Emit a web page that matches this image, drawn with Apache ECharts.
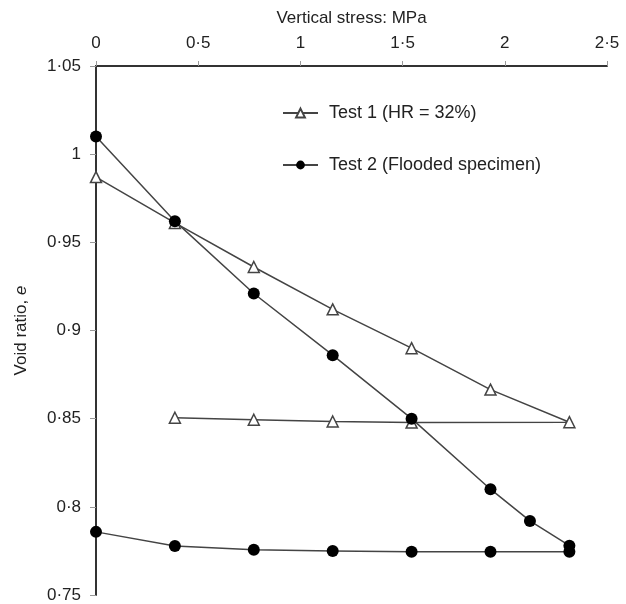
<!DOCTYPE html>
<html>
<head>
<meta charset="utf-8">
<script src="https://cdn.jsdelivr.net/npm/echarts@6/dist/echarts.min.js"></script>
<style>
  html, body { margin: 0; padding: 0; background: #fff; }
  #chart { width: 626px; height: 604px; }
</style>
</head>
<body>
<div id="chart"></div>
<script>
// Test 1 (HR = 32%): loading then unloading
const test1Stress = [0, 0.386, 0.772, 1.158, 1.544, 1.93, 2.316, 1.544, 1.158, 0.772, 0.386]
const test1Void = [0.987, 0.961, 0.936, 0.912, 0.890, 0.8665, 0.848, 0.8478, 0.8484, 0.8494, 0.8505]

// Test 2 (Flooded specimen)
const test2Stress = [0, 0.386, 0.772, 1.158, 1.544, 1.93, 2.123, 2.316, 2.316, 1.93, 1.544, 1.158, 0.772, 0.386, 0]
const test2Void = [1.01, 0.962, 0.921, 0.886, 0.850, 0.810, 0.792, 0.778, 0.7745, 0.7745, 0.7745, 0.775, 0.7757, 0.7778, 0.7858]

const seriesNames = ['Test 1 (HR = 32%)', 'Test 2 (Flooded specimen)']

const fontFamily = 'Liberation Sans, Arial, sans-serif'
const textColor = '#222'
const lineColor = '#444'

const dotFmt = (v) => String(+v.toFixed(2)).replace('.', '·')

const chart = echarts.init(document.getElementById('chart'))

chart.setOption({
  animation: false,
  textStyle: { fontFamily },
  grid: { left: 96, right: 19, top: 66, bottom: 9, containLabel: false },
  legend: {
    orient: 'vertical',
    left: 277,
    top: 99,
    itemGap: 34,
    itemWidth: 35,
    itemHeight: 11,
    textStyle: { fontSize: 18, color: textColor, fontFamily, padding: [0, 0, 0, 6] },
    data: seriesNames
  },
  xAxis: {
    type: 'value',
    position: 'top',
    min: 0,
    max: 2.5,
    interval: 0.5,
    name: 'Vertical stress: MPa',
    nameLocation: 'middle',
    nameGap: 39,
    nameTextStyle: { fontSize: 17, color: textColor },
    axisLine: { onZero: false, lineStyle: { color: '#333', width: 2 } },
    axisTick: { show: true, length: 5, lineStyle: { color: '#999' } },
    axisLabel: { fontSize: 17, color: textColor, margin: 14, formatter: dotFmt },
    splitLine: { show: false }
  },
  yAxis: {
    type: 'value',
    min: 0.75,
    max: 1.05,
    interval: 0.05,
    name: 'Void ratio, {i|e}',
    nameLocation: 'middle',
    nameGap: 66,
    nameTextStyle: {
      fontSize: 17,
      color: textColor,
      rich: { i: { fontSize: 17, fontStyle: 'italic', color: textColor, fontFamily } }
    },
    axisLine: { onZero: false, lineStyle: { color: '#333', width: 2 } },
    axisTick: { show: true, length: 6, lineStyle: { color: '#999' } },
    axisLabel: { fontSize: 17, color: textColor, margin: 15, formatter: dotFmt },
    splitLine: { show: false }
  },
  series: [
    {
      name: seriesNames[0],
      type: 'line',
      data: test1Stress.map((x, i) => [x, test1Void[i]]),
      symbol: 'triangle',
      symbolSize: 11,
      showAllSymbol: true,
      lineStyle: { color: lineColor, width: 1.5 },
      itemStyle: { color: '#fff', borderColor: '#444', borderWidth: 1.5 }
    },
    {
      name: seriesNames[1],
      type: 'line',
      data: test2Stress.map((x, i) => [x, test2Void[i]]),
      symbol: 'circle',
      symbolSize: 12,
      showAllSymbol: true,
      lineStyle: { color: lineColor, width: 1.5 },
      itemStyle: { color: '#000', borderColor: '#000', borderWidth: 0 }
    }
  ]
})
</script>
</body>
</html>
